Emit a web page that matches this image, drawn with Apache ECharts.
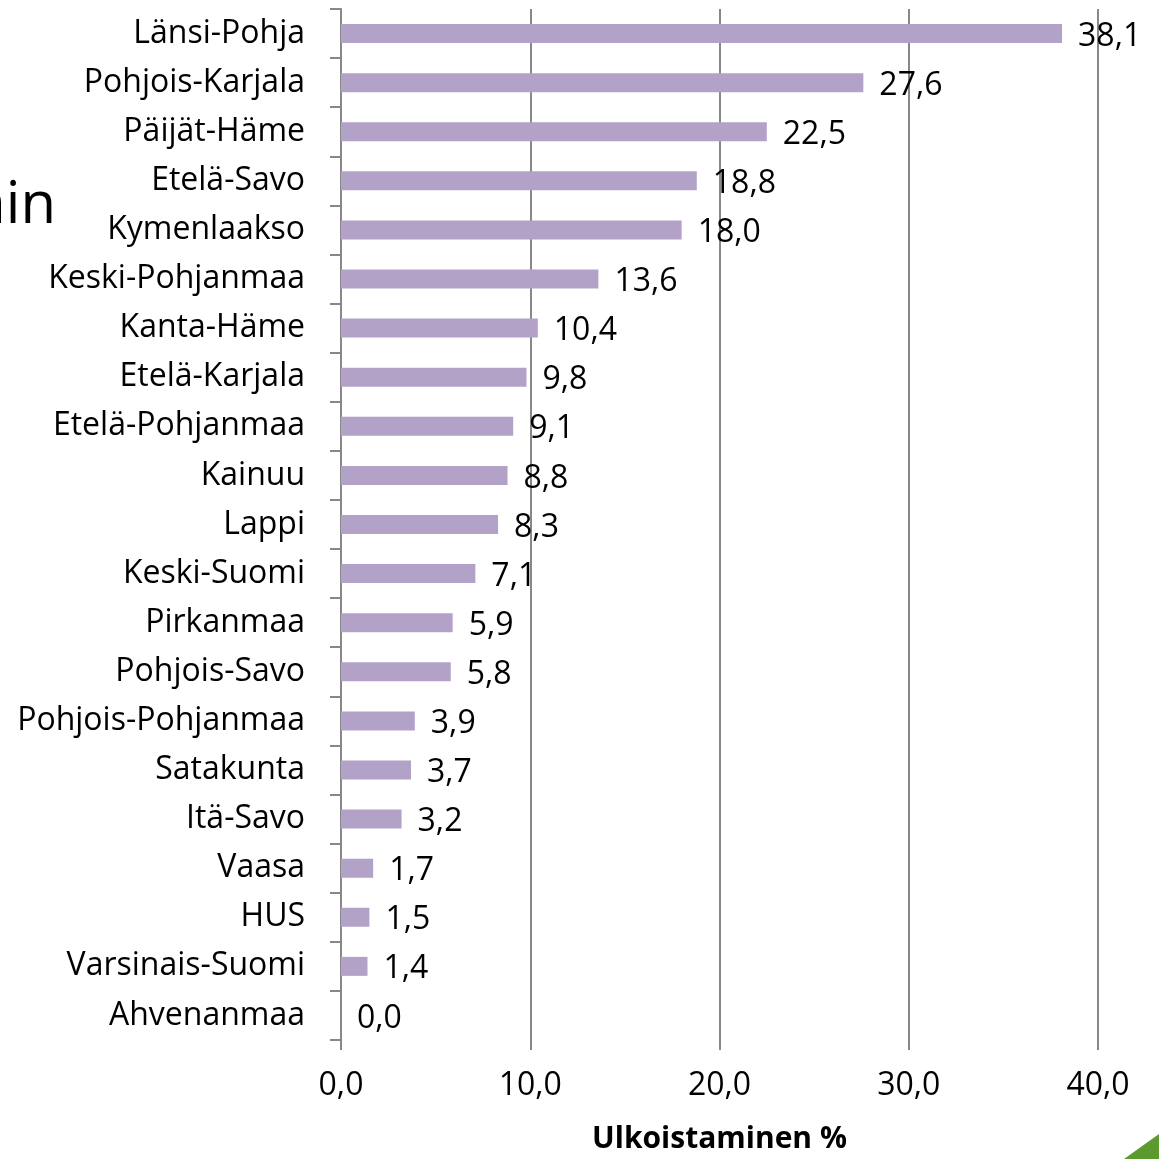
<!DOCTYPE html>
<html><head><meta charset="utf-8">
<script src="https://cdn.jsdelivr.net/npm/echarts@6/dist/echarts.min.js"></script>
<style>html,body{margin:0;padding:0;background:#fff}#c{width:1159px;height:1159px}</style>
</head><body><div id="c"></div>
<script>
const categories = ["Länsi-Pohja","Pohjois-Karjala","Päijät-Häme","Etelä-Savo","Kymenlaakso","Keski-Pohjanmaa","Kanta-Häme","Etelä-Karjala","Etelä-Pohjanmaa","Kainuu","Lappi","Keski-Suomi","Pirkanmaa","Pohjois-Savo","Pohjois-Pohjanmaa","Satakunta","Itä-Savo","Vaasa","HUS","Varsinais-Suomi","Ahvenanmaa"];
const values = [38.1,27.6,22.5,18.8,18.0,13.6,10.4,9.8,9.1,8.8,8.3,7.1,5.9,5.8,3.9,3.7,3.2,1.7,1.5,1.4,0.0];
const axisName = "Ulkoistaminen %";
const fmt = v => v.toFixed(1).replace('.', ',');
const font = '"Open Sans", sans-serif';
const chart = echarts.init(document.getElementById('c'));
chart.setOption({
  animation:false,
  textStyle:{fontFamily:font},
  grid:{left:341,right:61,top:9,bottom:116,containLabel:false},
  xAxis:{type:'value',min:0,max:40,interval:10,
    axisLine:{show:false},
    axisTick:{show:true,length:10,lineStyle:{color:'#888',width:2}},
    splitLine:{show:true,lineStyle:{color:'#888',width:2}},
    axisLabel:{formatter:fmt,color:'#000',fontSize:32,margin:30,fontFamily:font},
    name:axisName,nameLocation:'middle',nameGap:84,
    nameTextStyle:{color:'#000',fontSize:30,fontWeight:'bold',fontFamily:font}},
  yAxis:{type:'category',data:categories,inverse:true,
    axisLine:{show:true,lineStyle:{color:'#888',width:2}},
    axisTick:{show:true,length:11,lineStyle:{color:'#888',width:2}},
    axisLabel:{color:'#000',fontSize:32,margin:36,fontFamily:font,padding:[4,0,0,0]}},
  series:[{type:'bar',data:values,barWidth:19,itemStyle:{color:'#b3a2c7'},
    label:{show:true,position:'right',distance:16,offset:[0,3],formatter:p=>fmt(p.value),color:'#000',fontSize:32,fontFamily:font}}],
  graphic:[
    {type:'text',right:1103,top:177,style:{text:'ain',fontSize:58,fill:'#000',fontFamily:font}},
    {type:'polygon',shape:{points:[[1124,1159],[1159,1134],[1159,1159]]},style:{fill:'#5a9a2e'}}
  ]
});
</script></body></html>
